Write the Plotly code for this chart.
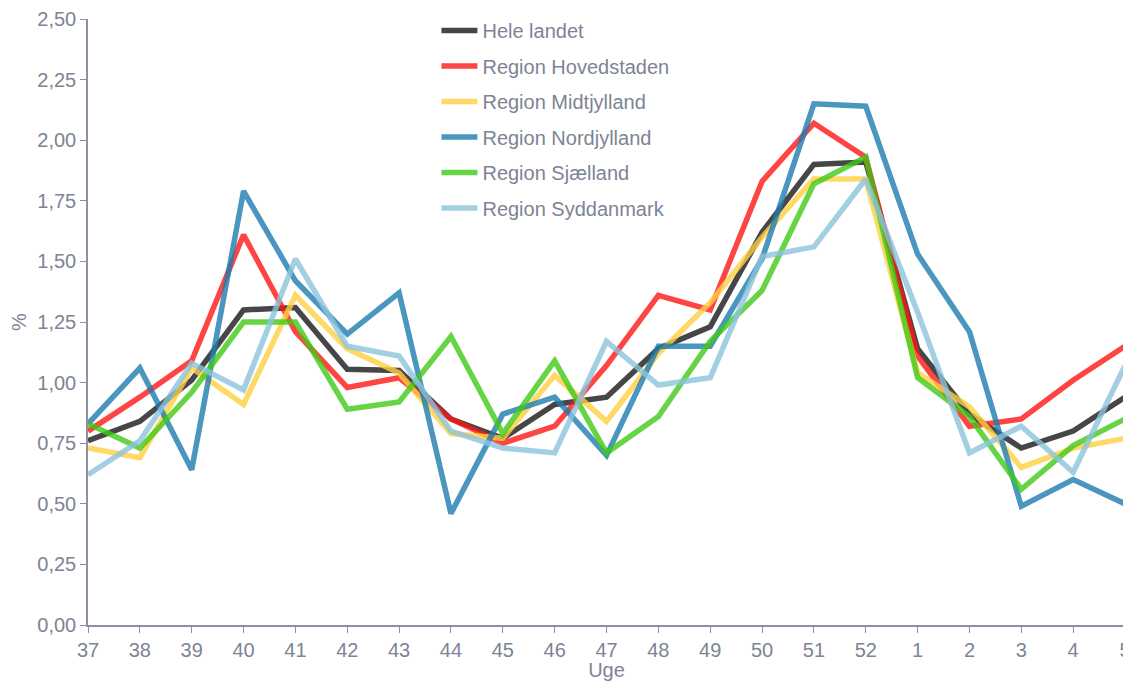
import plotly.graph_objects as go

weeks = ["37", "38", "39", "40", "41", "42", "43", "44", "45", "46", "47",
         "48", "49", "50", "51", "52", "1", "2", "3", "4", "5"]

hele_landet = [0.76, 0.84, 1.01, 1.30, 1.31, 1.055, 1.05, 0.85, 0.77, 0.91, 0.94,
               1.14, 1.23, 1.62, 1.90, 1.91, 1.14, 0.87, 0.73, 0.80, 0.94]
hovedstaden = [0.80, 0.94, 1.09, 1.61, 1.21, 0.98, 1.02, 0.85, 0.75, 0.82, 1.07,
               1.36, 1.30, 1.83, 2.07, 1.93, 1.11, 0.82, 0.85, 1.01, 1.15]
midtjylland = [0.73, 0.69, 1.06, 0.91, 1.36, 1.14, 1.04, 0.79, 0.77, 1.03, 0.84,
               1.12, 1.33, 1.60, 1.84, 1.84, 1.04, 0.90, 0.65, 0.73, 0.77]
nordjylland = [0.83, 1.06, 0.64, 1.79, 1.42, 1.20, 1.37, 0.46, 0.87, 0.94, 0.70,
               1.15, 1.15, 1.51, 2.15, 2.14, 1.53, 1.21, 0.49, 0.60, 0.50]
sjaelland = [0.83, 0.73, 0.96, 1.25, 1.25, 0.89, 0.92, 1.19, 0.79, 1.09, 0.71,
             0.86, 1.17, 1.38, 1.82, 1.93, 1.02, 0.86, 0.56, 0.74, 0.85]
syddanmark = [0.62, 0.76, 1.08, 0.97, 1.51, 1.15, 1.11, 0.80, 0.73, 0.71, 1.17,
              0.99, 1.02, 1.52, 1.56, 1.84, 1.29, 0.71, 0.82, 0.63, 1.07]

names = ["Hele landet", "Region Hovedstaden", "Region Midtjylland",
         "Region Nordjylland", "Region Sjælland", "Region Syddanmark"]
series = [hele_landet, hovedstaden, midtjylland, nordjylland, sjaelland, syddanmark]
colors = ["rgba(24,24,24,0.8)", "rgba(255,21,21,0.8)", "rgba(255,208,64,0.8)",
          "rgba(29,124,175,0.8)", "rgba(64,201,21,0.8)", "rgba(140,195,220,0.8)"]

y_ticks = [0, 0.25, 0.5, 0.75, 1.0, 1.25, 1.5, 1.75, 2.0, 2.25, 2.5]

txt = "#7d8494"
axc = "#8a91a0"

fig = go.Figure()
for n, s, c in zip(names, series, colors):
    fig.add_trace(go.Scatter(x=weeks, y=s, name=n, mode="lines",
                             line=dict(color=c, width=5.5), legendgroup=n))

# the page body has an 8px margin, so the figure is sized to fit the window
fig.update_layout(
    width=1123, height=673,
    margin=dict(l=80, r=6, t=11, b=56, autoexpand=False),
    paper_bgcolor="white", plot_bgcolor="white",
    separators=",.",
    font=dict(family="Liberation Sans, Arial, sans-serif", size=20, color=txt),
    showlegend=True,
    legend=dict(x=0.336, y=1.013, xanchor="left", yanchor="top",
                bgcolor="rgba(0,0,0,0)", tracegroupgap=6.5, itemwidth=36,
                font=dict(size=20, color=txt)),
    xaxis=dict(type="category", range=[0, 20], showgrid=False, zeroline=False,
               automargin=False,
               showline=True, linecolor=axc, linewidth=1.5,
               ticks="outside", ticklen=6, tickcolor=axc,
               title=dict(text="Uge", standoff=0, font=dict(size=20, color=txt))),
    yaxis=dict(range=[0, 2.5], tickvals=y_ticks, tickformat=".2f",
               showgrid=False, zeroline=False, automargin=False,
               showline=True, linecolor=axc, linewidth=1.5,
               ticks="outside", ticklen=6, tickcolor=axc,
               title=dict(text="%", standoff=8, font=dict(size=20, color=txt))),
)

fig.write_html("out.html")
